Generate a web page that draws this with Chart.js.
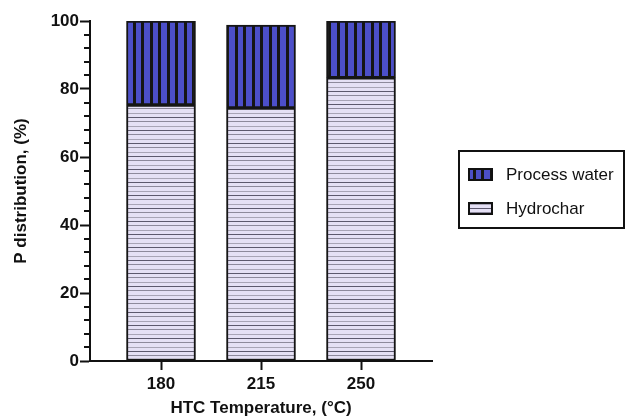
<!DOCTYPE html>
<html>
<head>
<meta charset="utf-8">
<script src="https://cdn.jsdelivr.net/npm/chart.js@4"></script>
<style>
  body { margin: 0; background: #fff; }
  #wrap { width: 626px; height: 419px; position: relative; }
</style>
</head>
<body>
<div id="wrap"><canvas id="pChart" width="626" height="419"></canvas></div>
<script>
const categories = ["180", "215", "250"];
const hydrochar = [75.3, 74.4, 83.3];
const processWater = [24.7, 24.4, 16.7];
const yTicks = [0, 20, 40, 60, 80, 100];

const FONT = "'Liberation Sans', Arial, sans-serif";

// fill patterns like the GraphPad bars
function stripePattern() {
  const c = document.createElement("canvas");
  c.width = 17; c.height = 4;
  const g = c.getContext("2d");
  g.fillStyle = "#4c4fc9";
  g.fillRect(0, 0, 17, 4);
  g.fillStyle = "#151515";
  g.fillRect(5, 0, 3, 4);
  g.fillRect(14, 0, 3, 4);
  return g.createPattern(c, "repeat");
}

function linePattern() {
  const c = document.createElement("canvas");
  c.width = 4; c.height = 13;
  const g = c.getContext("2d");
  g.fillStyle = "#e5e0f5";
  g.fillRect(0, 0, 4, 13);
  g.fillStyle = "#5d596e";
  g.fillRect(0, 0, 4, 1);
  g.fillStyle = "#8d899c";
  g.fillRect(0, 4, 4, 1);
  g.fillStyle = "#a8a4b6";
  g.fillRect(0, 9, 4, 1);
  return g.createPattern(c, "repeat");
}

const blueFill = stripePattern();
const lavFill = linePattern();

const minorTicks = {
  id: "minorTicks",
  afterDraw(chart) {
    const ctx = chart.ctx;
    const y = chart.scales.y;
    const x0 = chart.chartArea.left;
    ctx.save();
    ctx.strokeStyle = "#111";
    ctx.lineWidth = 2;
    for (let v = 4; v < 100; v += 4) {
      if (v % 20 === 0) continue;
      const py = Math.round(y.getPixelForValue(v));
      ctx.beginPath();
      ctx.moveTo(x0 - 6, py);
      ctx.lineTo(x0, py);
      ctx.stroke();
    }
    ctx.restore();
  }
};

const boxLegend = {
  id: "boxLegend",
  afterDraw(chart) {
    const ctx = chart.ctx;
    ctx.save();
    ctx.strokeStyle = "#111";
    ctx.lineWidth = 2;
    ctx.strokeRect(459, 151, 165, 77);
    const items = [
      { label: "Process water", fill: blueFill, y: 169 },
      { label: "Hydrochar", fill: lavFill, y: 203 }
    ];
    items.forEach(it => {
      ctx.fillStyle = it.fill;
      ctx.fillRect(469, it.y, 23, 11);
      ctx.lineWidth = 2;
      ctx.strokeRect(469, it.y, 23, 11);
      ctx.fillStyle = "#111";
      ctx.font = "17px " + FONT;
      ctx.textBaseline = "middle";
      ctx.fillText(it.label, 506, it.y + 6);
    });
    ctx.restore();
  }
};

const ctx = document.getElementById("pChart").getContext("2d");

new Chart(ctx, {
  type: "bar",
  data: {
    datasets: [
      {
        label: "Hydrochar",
        data: categories.map((c, i) => ({ x: i, y: hydrochar[i] })),
        backgroundColor: lavFill,
        borderColor: "#151515",
        borderWidth: 2,
        borderSkipped: false,
        barThickness: 69
      },
      {
        label: "Process water",
        data: categories.map((c, i) => ({ x: i, y: processWater[i] })),
        backgroundColor: blueFill,
        borderColor: "#151515",
        borderWidth: 2,
        borderSkipped: false,
        barThickness: 69
      }
    ]
  },
  options: {
    responsive: false,
    animation: false,
    layout: { padding: { top: 21, right: 194, bottom: 0, left: 0 } },
    plugins: {
      legend: { display: false },
      tooltip: { enabled: false }
    },
    scales: {
      x: {
        type: "linear",
        stacked: true,
        offset: false,
        min: -0.71,
        max: 2.71,
        afterBuildTicks: s => { s.ticks = categories.map((c, i) => ({ value: i })); },
        afterFit: s => { s.height = 58; },
        grid: { display: true, offset: false, drawOnChartArea: false, tickLength: 9, tickColor: "#111", tickWidth: 2 },
        border: { color: "#111", width: 2 },
        ticks: {
          color: "#111",
          font: { family: FONT, size: 17, weight: "bold" },
          padding: 4,
          callback: v => categories[v]
        },
        title: {
          display: true,
          text: "HTC Temperature, (°C)",
          color: "#111",
          font: { family: FONT, size: 17, weight: "bold" },
          padding: { top: 0, bottom: 0 }
        }
      },
      y: {
        stacked: true,
        min: 0,
        max: 100,
        afterBuildTicks: s => { s.ticks = yTicks.map(v => ({ value: v })); },
        afterFit: s => { s.width = 90; },
        grid: { display: true, drawOnChartArea: false, tickLength: 10, tickColor: "#111", tickWidth: 2 },
        border: { color: "#111", width: 2 },
        ticks: {
          color: "#111",
          font: { family: FONT, size: 17, weight: "bold" },
          padding: 1
        },
        title: {
          display: true,
          text: "P distribution, (%)",
          color: "#111",
          font: { family: FONT, size: 17, weight: "bold" },
          padding: { top: 11, bottom: 6 }
        }
      }
    }
  },
  plugins: [minorTicks, boxLegend]
});
</script>
</body>
</html>
